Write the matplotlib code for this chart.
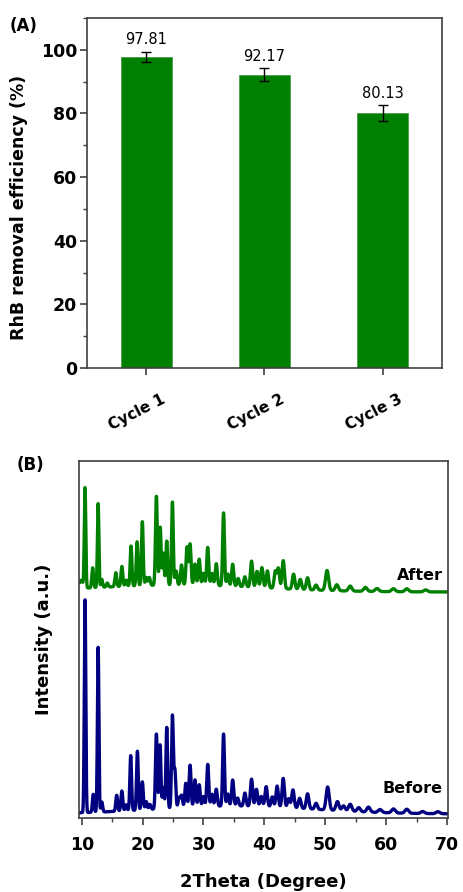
import matplotlib
matplotlib.use('Agg')
from matplotlib import pyplot as plt
from matplotlib.ticker import MultipleLocator
import numpy as np

plt.rcParams['font.family'] = ['DejaVu Sans']
plt.rcParams['axes.linewidth'] = 1.2
plt.rcParams['axes.edgecolor'] = '#404040'
plt.rcParams['xtick.color'] = '#404040'
plt.rcParams['ytick.color'] = '#404040'
plt.rcParams['xtick.labelcolor'] = 'black'
plt.rcParams['ytick.labelcolor'] = 'black'

# (A) RhB removal over three cycles
cycles = ['Cycle 1', 'Cycle 2', 'Cycle 3']
removal = [97.81, 92.17, 80.13]
removal_err = [1.5, 2.0, 2.4]

# (B) XRD patterns: peak centres (2theta), heights above background, widths
before_pos = [10.55, 11.9, 12.7, 13.3, 15.75, 16.6, 17.3, 18.05, 19.15, 19.96,
              20.6, 21.2, 22.27, 22.87, 23.4, 23.97, 24.9, 25.3, 26.0, 26.4,
              27.1, 27.8, 28.6, 29.3, 30.0, 30.7, 31.4, 32.1, 33.3, 34.0,
              34.8, 35.6, 36.8, 37.9, 38.7, 39.5, 40.3, 41.3, 42.1, 43.1,
              44.0, 44.7, 45.8, 47.1, 48.5, 50.4, 52.0, 53.0, 54.1, 55.5,
              57.1, 59.0, 61.2, 63.4, 66.0, 68.5]
before_height = [213, 18, 165, 10, 16, 20, 6, 55, 59, 28,
                 8, 5, 75, 64, 21, 81, 92, 38, 10, 12,
                 24, 42, 27, 22, 10, 42, 12, 17, 72, 12,
                 26, 8, 13, 27, 17, 10, 20, 10, 21, 29,
                 9, 18, 10, 15, 6, 23, 9, 5, 7, 4,
                 5, 3, 4, 4, 2, 2]
before_width = [0.12, 0.14, 0.12, 0.14, 0.15, 0.15, 0.15, 0.14, 0.14, 0.15,
                0.15, 0.16, 0.15, 0.14, 0.14, 0.14, 0.14, 0.15, 0.16, 0.16,
                0.16, 0.16, 0.16, 0.16, 0.17, 0.16, 0.17, 0.17, 0.15, 0.17,
                0.17, 0.18, 0.18, 0.18, 0.18, 0.19, 0.19, 0.19, 0.19, 0.19,
                0.2, 0.2, 0.21, 0.21, 0.22, 0.25, 0.25, 0.26, 0.27, 0.27,
                0.28, 0.3, 0.3, 0.3, 0.3, 0.3]
before_bg = [4, 8, 35, 13]     # flat level, hump height, hump centre, hump width

after_pos = [9.9, 10.55, 11.8, 12.7, 13.3, 14.2, 15.6, 16.6, 17.3, 18.1, 19.1,
             19.96, 20.6, 21.1, 22.27, 22.9, 23.4, 23.97, 24.9, 25.5, 26.4,
             27.3, 27.8, 28.6, 29.3, 30.0, 30.7, 31.4, 32.1, 33.3, 34.0,
             34.8, 35.7, 36.8, 37.9, 38.8, 39.6, 40.5, 41.8, 42.3, 43.1,
             44.8, 45.9, 47.1, 48.5, 50.3, 51.9, 54.1, 56.6, 58.5, 61.2,
             63.4, 66.5]
after_height = [8, 100, 20, 84, 8, 4, 14, 20, 6, 40, 44,
                64, 8, 8, 89, 58, 32, 44, 83, 14, 20,
                38, 41, 21, 26, 12, 38, 12, 22, 73, 12,
                22, 8, 10, 26, 16, 20, 17, 17, 20, 28,
                15, 10, 12, 5, 20, 6, 5, 4, 3, 3,
                3, 2]
after_width = [0.3, 0.12, 0.14, 0.12, 0.14, 0.16, 0.15, 0.15, 0.15, 0.14, 0.14,
               0.14, 0.15, 0.16, 0.15, 0.14, 0.14, 0.14, 0.14, 0.16, 0.16,
               0.16, 0.16, 0.16, 0.16, 0.17, 0.16, 0.17, 0.17, 0.15, 0.17,
               0.17, 0.18, 0.18, 0.18, 0.18, 0.19, 0.19, 0.19, 0.19, 0.19,
               0.2, 0.21, 0.21, 0.22, 0.25, 0.25, 0.27, 0.28, 0.3, 0.3,
               0.3, 0.3]
after_bg = [226, 7, 26, 14]


def pattern(tt, pos, height, width, bg):
    y = bg[0] + bg[1] * np.exp(-0.5 * ((tt - bg[2]) / bg[3]) ** 2)
    for p, h, w in zip(pos, height, width):
        y = y + h * np.exp(-0.5 * ((tt - p) / w) ** 2)
    return y


def main():
    fig = plt.figure(figsize=(4.64, 8.92), dpi=100)

    # ---- (A) bar chart ----
    ax = fig.add_axes([0.1875, 0.5874, 0.765, 0.3924])
    x = np.arange(1, len(cycles) + 1)
    ax.bar(x, removal, width=0.43, color='#008000', edgecolor='#4a9e4a',
           linewidth=0.6, zorder=2)
    ax.errorbar(x, removal, yerr=removal_err, fmt='none', ecolor='black',
                elinewidth=1.0, capsize=3.9, capthick=1.0, zorder=3)
    for xi, v, e in zip(x, removal, removal_err):
        ax.text(xi, v + e + 3.8, f'{v:.2f}', ha='center', va='center',
                fontsize=10.5)
    ax.set_xlim(0.5, 3.5)
    ax.set_ylim(0, 110)
    ax.set_yticks([0, 20, 40, 60, 80, 100])
    ax.yaxis.set_minor_locator(MultipleLocator(10))
    ax.set_xticks(x)
    ax.set_xticklabels([])
    # rotated category names, nudged a little left of their ticks
    for xi, name in zip(x, cycles):
        ax.annotate(name, xy=(xi, 0), xycoords=('data', 'axes fraction'),
                    xytext=(-6.3, -17.3), textcoords='offset points',
                    rotation=27, ha='center', va='top', fontsize=11,
                    fontweight='bold')
    ax.tick_params(axis='x', which='major', direction='out', length=5,
                   width=1.2)
    ax.tick_params(axis='y', which='major', direction='out', length=5,
                   pad=2, width=1.2, labelsize=12.5)
    ax.tick_params(axis='y', which='minor', direction='out', length=3,
                   width=1.0)
    for lbl in ax.get_yticklabels():
        lbl.set_fontweight('bold')
    ax.set_ylabel('RhB removal efficiency (%)', fontsize=12.5,
                  fontweight='bold')
    ax.yaxis.set_label_coords(-0.166, 0.459)
    fig.text(10 / 464, 1 - 26 / 892, '(A)', fontsize=12, fontweight='bold',
             va='center', ha='left')

    # ---- (B) XRD patterns ----
    bx = fig.add_axes([0.1703, 0.083, 0.7953, 0.4002])
    tt = np.linspace(9.7, 70, 3031)
    bx.plot(tt, pattern(tt, after_pos, after_height, after_width, after_bg),
            color='#008000', lw=2.4, solid_joinstyle='round')
    bx.plot(tt, pattern(tt, before_pos, before_height, before_width, before_bg),
            color='#000080', lw=2.4, solid_joinstyle='round')
    bx.text(69.3, 242, 'After', ha='right', va='center', fontsize=11.5,
            fontweight='bold')
    bx.text(69.3, 29, 'Before', ha='right', va='center', fontsize=11.5,
            fontweight='bold')
    bx.set_xlim(9.56, 70.17)
    bx.set_ylim(0, 357)
    bx.set_yticks([])
    bx.set_xticks(range(10, 71, 10))
    bx.xaxis.set_minor_locator(MultipleLocator(5))
    bx.tick_params(axis='x', which='major', direction='out', length=5,
                   width=1.2, pad=8, labelsize=12.5)
    bx.tick_params(axis='x', which='minor', direction='out', length=3,
                   width=1.0)
    for lbl in bx.get_xticklabels():
        lbl.set_fontweight('bold')
    bx.set_xlabel('2Theta (Degree)', fontsize=13, fontweight='bold')
    bx.xaxis.set_label_coords(0.5, -0.155)
    bx.set_ylabel('Intensity (a.u.)', fontsize=13, fontweight='bold')
    bx.yaxis.set_label_coords(-0.07, 0.5)
    fig.text(17 / 464, 1 - 465 / 892, '(B)', fontsize=12, fontweight='bold',
             va='center', ha='left')

    fig.savefig('out.png', dpi=100)


if __name__ == '__main__':
    main()
